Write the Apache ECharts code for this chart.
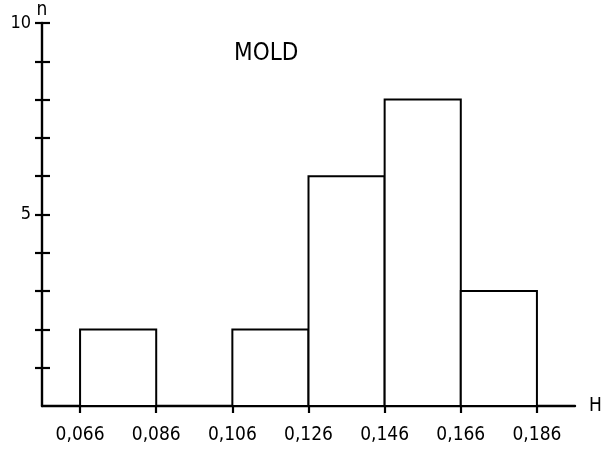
<!DOCTYPE html>
<html>
<head>
<meta charset="utf-8">
<script src="https://cdn.jsdelivr.net/npm/echarts@6/dist/echarts.min.js"></script>
<style>html,body{margin:0;padding:0;background:#fff}#c{width:614px;height:449px}</style>
</head>
<body>
<div id="c"></div>
<script>
const binEdges = [0.066, 0.086, 0.106, 0.126, 0.146, 0.166, 0.186];
const counts = [2, 0, 2, 6, 8, 3];
const xTickLabels = ['0,066', '0,086', '0,106', '0,126', '0,146', '0,166', '0,186'];
const yTickValues = [1, 2, 3, 4, 5, 6, 7, 8, 9, 10];
const yLabelValues = [5, 10];
const chartTitle = 'MOLD';

const barData = [];
for (let i = 0; i < counts.length; i++) {
  if (counts[i] > 0) barData.push([binEdges[i], binEdges[i + 1], counts[i]]);
}
const font = "'DejaVu Sans Condensed', sans-serif";
const chart = echarts.init(document.getElementById('c'), null, {renderer: 'canvas'});
chart.setOption({
  animation: false,
  backgroundColor: '#fff',
  title: {
    text: chartTitle, left: 229, top: 37,
    textStyle: {fontFamily: font, fontSize: 24, fontWeight: 'normal', color: '#000'}
  },
  grid: {left: 42, right: 39, top: 23, bottom: 43},
  xAxis: {
    type: 'value', min: 0.056, max: 0.196,
    name: 'H', nameLocation: 'end', nameGap: 14, nameMoveOverlap: false,
    nameTextStyle: {fontFamily: font, fontSize: 19, color: '#000'},
    axisLine: {show: true, onZero: false, lineStyle: {color: '#000', width: 2.4}},
    axisTick: {show: true, length: 7, customValues: binEdges, lineStyle: {color: '#000', width: 2.2}},
    axisLabel: {
      show: true, customValues: binEdges, margin: 20,
      fontFamily: font, fontSize: 19, color: '#000',
      formatter: v => { const i = binEdges.indexOf(v); return i >= 0 ? xTickLabels[i] : ''; }
    },
    splitLine: {show: false}
  },
  yAxis: [{
    type: 'value', min: 0, max: 10, interval: 1,
    name: 'n', nameLocation: 'end', nameGap: 3, nameMoveOverlap: false,
    nameTextStyle: {fontFamily: font, fontSize: 19, color: '#000'},
    axisLine: {show: true, lineStyle: {color: '#000', width: 2.4}},
    axisTick: {show: true, length: 7, customValues: yTickValues, lineStyle: {color: '#000', width: 2.2}},
    axisLabel: {show: true, customValues: yLabelValues, margin: 11, fontFamily: font, fontSize: 18, color: '#000'},
    splitLine: {show: false}
  }, {
    type: 'value', min: 0, max: 10, interval: 1, position: 'left',
    axisLine: {show: false},
    axisTick: {show: true, inside: true, length: 8, customValues: yTickValues, lineStyle: {color: '#000', width: 2.2}},
    axisLabel: {show: false},
    splitLine: {show: false}
  }],
  series: [{
    type: 'custom',
    data: barData,
    encode: {x: [0, 1], y: 2},
    renderItem: function (params, api) {
      const p0 = api.coord([api.value(0), 0]);
      const p1 = api.coord([api.value(1), api.value(2)]);
      return {
        type: 'rect',
        shape: {x: p0[0], y: p1[1], width: p1[0] - p0[0], height: p0[1] - p1[1]},
        style: {fill: '#fff', stroke: '#000', lineWidth: 2}
      };
    }
  }]
});
</script>
</body>
</html>
